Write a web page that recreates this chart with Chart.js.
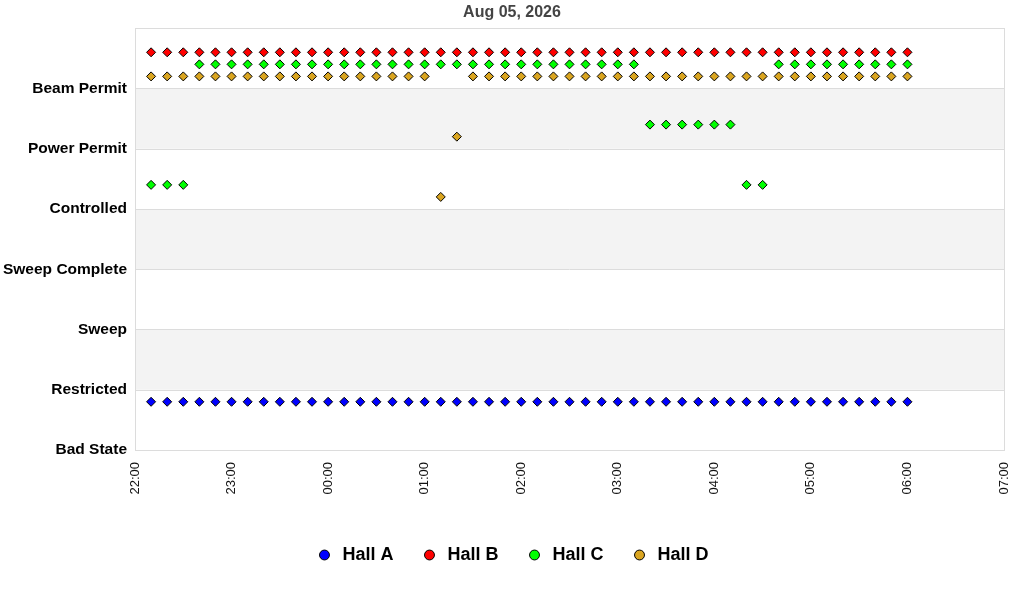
<!DOCTYPE html>
<html>
<head>
<meta charset="utf-8">
<title>Hall states</title>
<script src="https://cdn.jsdelivr.net/npm/chart.js@4.4.1/dist/chart.umd.min.js"></script>
<style>
  html, body { margin: 0; padding: 0; background: #fff; }
  #wrap { width: 1024px; height: 600px; }
</style>
</head>
<body>
<div id="wrap"><canvas id="stateChart" width="1024" height="600"></canvas></div>
<script>
// sample times (every 10 min)
const times = [
  "22:10", "22:20", "22:30", "22:40", "22:50", "23:00",
  "23:10", "23:20", "23:30", "23:40", "23:50", "00:00",
  "00:10", "00:20", "00:30", "00:40", "00:50", "01:00",
  "01:10", "01:20", "01:30", "01:40", "01:50", "02:00",
  "02:10", "02:20", "02:30", "02:40", "02:50", "03:00",
  "03:10", "03:20", "03:30", "03:40", "03:50", "04:00",
  "04:10", "04:20", "04:30", "04:40", "04:50", "05:00",
  "05:10", "05:20", "05:30", "05:40", "05:50", "06:00"
];

const stateLabels = ["Bad State", "Restricted", "Sweep", "Sweep Complete", "Controlled", "Power Permit", "Beam Permit", ""];
const hourLabels = ["22:00", "23:00", "00:00", "01:00", "02:00", "03:00", "04:00", "05:00", "06:00", "07:00"];

const hallA = [
  0.8, 0.8, 0.8, 0.8, 0.8, 0.8, 0.8, 0.8, 0.8, 0.8, 0.8, 0.8,
  0.8, 0.8, 0.8, 0.8, 0.8, 0.8, 0.8, 0.8, 0.8, 0.8, 0.8, 0.8,
  0.8, 0.8, 0.8, 0.8, 0.8, 0.8, 0.8, 0.8, 0.8, 0.8, 0.8, 0.8,
  0.8, 0.8, 0.8, 0.8, 0.8, 0.8, 0.8, 0.8, 0.8, 0.8, 0.8, 0.8
];
const hallB = [
  6.6, 6.6, 6.6, 6.6, 6.6, 6.6, 6.6, 6.6, 6.6, 6.6, 6.6, 6.6,
  6.6, 6.6, 6.6, 6.6, 6.6, 6.6, 6.6, 6.6, 6.6, 6.6, 6.6, 6.6,
  6.6, 6.6, 6.6, 6.6, 6.6, 6.6, 6.6, 6.6, 6.6, 6.6, 6.6, 6.6,
  6.6, 6.6, 6.6, 6.6, 6.6, 6.6, 6.6, 6.6, 6.6, 6.6, 6.6, 6.6
];
const hallC = [
  4.4, 4.4, 4.4, 6.4, 6.4, 6.4, 6.4, 6.4, 6.4, 6.4, 6.4, 6.4,
  6.4, 6.4, 6.4, 6.4, 6.4, 6.4, 6.4, 6.4, 6.4, 6.4, 6.4, 6.4,
  6.4, 6.4, 6.4, 6.4, 6.4, 6.4, 6.4, 5.4, 5.4, 5.4, 5.4, 5.4,
  5.4, 4.4, 4.4, 6.4, 6.4, 6.4, 6.4, 6.4, 6.4, 6.4, 6.4, 6.4
];
const hallD = [
  6.2, 6.2, 6.2, 6.2, 6.2, 6.2, 6.2, 6.2, 6.2, 6.2, 6.2, 6.2,
  6.2, 6.2, 6.2, 6.2, 6.2, 6.2, 4.2, 5.2, 6.2, 6.2, 6.2, 6.2,
  6.2, 6.2, 6.2, 6.2, 6.2, 6.2, 6.2, 6.2, 6.2, 6.2, 6.2, 6.2,
  6.2, 6.2, 6.2, 6.2, 6.2, 6.2, 6.2, 6.2, 6.2, 6.2, 6.2, 6.2
];

const FONT = "'Liberation Sans', Arial, sans-serif";

// minutes after 22:00
const toMinutes = (t) => {
  const [h, m] = t.split(":").map(Number);
  return (h * 60 + m - 22 * 60 + 1440) % 1440;
};

const makePoints = (values) => times.map((t, i) => ({ x: toMinutes(t), y: values[i] }));

const makeSet = (label, values, color) => ({
  label: label,
  data: makePoints(values),
  showLine: false,
  pointStyle: "rectRot",
  pointRadius: 4.5,
  pointHoverRadius: 4.5,
  pointBackgroundColor: color,
  pointBorderColor: "#000",
  pointBorderWidth: 1,
  backgroundColor: color,
  borderColor: "#000",
  borderWidth: 1,
});

// grey bands behind the points + frame around the plot
const bandsPlugin = {
  id: "bands",
  beforeDatasetsDraw(chart) {
    const { ctx, chartArea: a, scales: { y } } = chart;
    ctx.save();
    ctx.fillStyle = "#f3f3f3";
    [1, 3, 5].forEach((lo) => {
      const top = y.getPixelForValue(lo + 1);
      const bottom = y.getPixelForValue(lo);
      ctx.fillRect(a.left, top, a.right - a.left, bottom - top);
    });
    ctx.strokeStyle = "#dcdcdc";
    ctx.lineWidth = 1;
    for (let v = 0; v <= 7; v++) {
      const py = Math.round(y.getPixelForValue(v)) + 0.5;
      ctx.beginPath();
      ctx.moveTo(a.left, py);
      ctx.lineTo(a.right, py);
      ctx.stroke();
    }
    ctx.strokeRect(Math.round(a.left) + 0.5, Math.round(a.top) + 0.5, Math.round(a.right - a.left), Math.round(a.bottom - a.top));
    ctx.restore();
  },
};

const config = {
  type: "scatter",
  data: {
    datasets: [
      makeSet("Hall A", hallA, "#0000ff"),
      makeSet("Hall B", hallB, "#ff0000"),
      makeSet("Hall C", hallC, "#00ff00"),
      makeSet("Hall D", hallD, "#daa520"),
    ],
  },
  options: {
    responsive: false,
    animation: false,
    events: [],
    layout: { padding: { left: 0, right: 0, top: 0, bottom: 26 } },
    scales: {
      x: {
        type: "linear",
        min: 0,
        max: 540,
        grid: { display: false, drawTicks: false },
        border: { display: false },
        afterBuildTicks: (scale) => {
          scale.ticks = hourLabels.map((_, i) => ({ value: i * 60 }));
        },
        afterFit: (scale) => {
          scale.height = 69;
          scale.paddingRight = 20;
        },
        ticks: {
          minRotation: 90,
          maxRotation: 90,
          padding: 12,
          color: "#111",
          font: { family: FONT, size: 13 },
          callback: (value) => hourLabels[value / 60],
        },
      },
      y: {
        type: "linear",
        min: 0,
        max: 7,
        grid: { display: false, drawTicks: false },
        border: { display: false },
        afterBuildTicks: (scale) => {
          scale.ticks = stateLabels.map((_, i) => ({ value: i }));
        },
        afterFit: (scale) => { scale.width = 135; },
        ticks: {
          padding: 8,
          color: "#000",
          font: { family: FONT, size: 15.5, weight: "bold" },
          callback: (value) => stateLabels[value],
        },
      },
    },
    plugins: {
      title: {
        display: true,
        text: "Aug 05, 2026",
        color: "#444",
        font: { family: FONT, size: 16, weight: "bold" },
        padding: { top: 3, bottom: 6 },
      },
      legend: {
        position: "bottom",
        labels: {
          usePointStyle: true,
          pointStyle: "circle",
          boxWidth: 18,
          boxHeight: 7,
          padding: 27,
          color: "#000",
          font: { family: FONT, size: 18, weight: "bold" },
        },
      },
      tooltip: { enabled: false },
    },
  },
  plugins: [bandsPlugin],
};

const ctx = document.getElementById("stateChart").getContext("2d");
const stateChart = new Chart(ctx, config);
</script>
</body>
</html>
